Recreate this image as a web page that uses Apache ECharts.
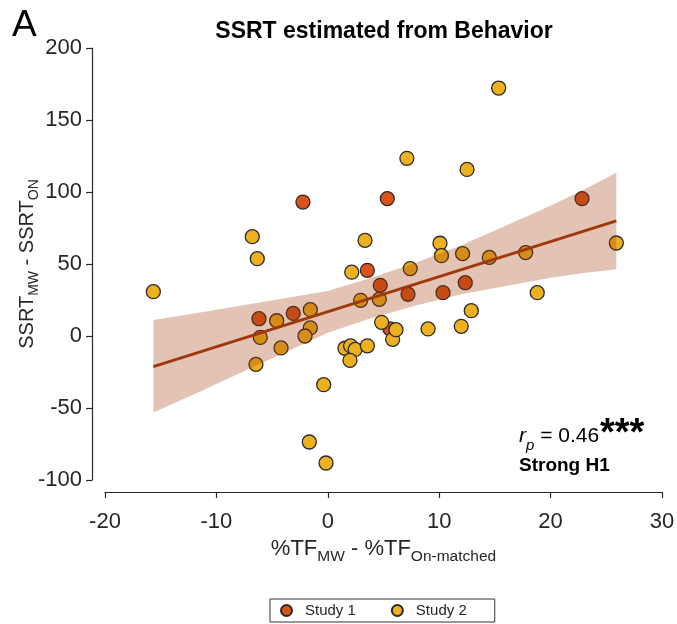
<!DOCTYPE html>
<html>
<head>
<meta charset="utf-8">
<script src="https://cdn.jsdelivr.net/npm/echarts@6/dist/echarts.min.js"></script>
<style>
html,body{margin:0;padding:0;background:#fff;}
#chart{width:677px;height:624px;}
</style>
</head>
<body>
<div id="chart"></div>
<script>
// Study 1 (red) points: [x, y]
var study1X = [-6.18, -3.10, -2.23, 3.55, 4.71, 5.34, 5.58, 7.20, 10.34, 12.34, 22.82];
var study1Y = [12.0, 15.7, 93.0, 45.6, 35.2, 95.4, 4.9, 29.0, 30.1, 37.0, 95.4];
// Study 2 (yellow) points
var study2X = [-15.66, -6.78, -6.33, -6.06, -4.59, -1.57, -1.57, -2.05, -4.20, -6.45, -0.37, -1.66, -0.16,
               1.54, 2.05, 2.46, 1.99, 3.55, 2.15, 3.34, 2.95, 4.62, 4.83, 5.82, 6.12, 9.00, 11.98, 12.88,
               7.40, 7.10, 12.50, 15.34, 10.07, 10.20, 12.10, 14.50, 17.76, 18.80, 25.90];
var study2Y = [30.8, 69.0, 53.7, -1.0, 10.6, 18.3, 5.6, 0.0, -8.3, -19.7, -33.8, -73.6, -88.2,
               -8.5, -6.9, -9.3, -16.9, -6.8, 44.3, 66.4, 24.8, 25.5, 9.5, -2.3, 4.4, 4.9, 6.7, 17.6,
               46.8, 123.4, 115.7, 172.2, 64.4, 55.8, 57.2, 54.6, 57.9, 30.1, 64.6];
// Regression line end points
var fitX = [-15.66, 25.9];
var fitY = [-21.3, 79.9];
// Confidence band
var bandX  = [-15.66, -12, -8, -4, 0, 4, 8, 12, 16, 20, 23, 25.9];
var bandLo = [-53.2, -40.4, -26.2, -11.9, 2.3, 12.6, 21.3, 29.0, 34.8, 40.5, 43.8, 46.3];
var bandHi = [11.1, 15.6, 20.9, 26.1, 31.3, 40.6, 51.3, 63.0, 76.8, 90.5, 101.8, 113.4];
// Axis ticks
var xTicks = [-20, -10, 0, 10, 20, 30];
var yTicks = [-100, -50, 0, 50, 100, 150, 200];

var FONT = '"Liberation Sans", Arial, Helvetica, sans-serif';
var TXT = '#262626';

function pairs(xs, ys){ return xs.map(function(x,i){ return [x, ys[i]]; }); }

var chart = echarts.init(document.getElementById('chart'), null, {renderer:'canvas'});

function subRich(big, small, pad){
  return {
    m: {fontSize: big, fontFamily: FONT, color: TXT, lineHeight: big + 4},
    s: {fontSize: small, fontFamily: FONT, color: TXT, verticalAlign: 'top', lineHeight: small + 1, padding: [pad,0,0,0]}
  };
}

var option = {
  animation: false,
  backgroundColor: '#ffffff',
  textStyle: {fontFamily: FONT},
  grid: {left: 105, right: 15, top: 48, bottom: 144, containLabel: false, outerBoundsMode: 'none'},
  xAxis: {
    type: 'value', min: xTicks[0], max: xTicks[xTicks.length-1], interval: 10, offset: 12,
    splitLine: {show: false},
    axisLine: {show: true, onZero: false, lineStyle: {color: TXT, width: 1.2}},
    axisTick: {show: true, inside: false, length: 6, lineStyle: {color: TXT, width: 1.2}},
    axisLabel: {color: TXT, fontSize: 22, fontFamily: FONT, margin: 19},
    name: '{m|%TF}{s|MW}{m| - %TF}{s|On-matched}',
    nameLocation: 'middle', nameGap: 44, nameMoveOverlap: false,
    nameTextStyle: {rich: subRich(22, 15.5, 13)}
  },
  yAxis: {
    type: 'value', min: yTicks[0], max: yTicks[yTicks.length-1], interval: 50, offset: 13,
    splitLine: {show: false},
    axisLine: {show: true, onZero: false, lineStyle: {color: TXT, width: 1.2}},
    axisTick: {show: true, inside: false, length: 6, lineStyle: {color: TXT, width: 1.2}},
    axisLabel: {color: TXT, fontSize: 22, fontFamily: FONT, margin: 10},
    name: '{m|SSRT}{s|MW}{m| - SSRT}{s|ON}',
    nameLocation: 'middle', nameGap: 53, nameRotate: 90, nameMoveOverlap: false,
    nameTextStyle: {rich: subRich(20, 14, 12)}
  },
  legend: {
    left: 270, bottom: 2,
    orient: 'horizontal',
    data: ['Study 1', 'Study 2'],
    icon: 'circle', itemWidth: 11, itemHeight: 11, itemGap: 35,
    borderColor: '#333', borderWidth: 1, borderRadius: 0,
    padding: [4, 28, 4, 10],
    textStyle: {fontSize: 15, color: TXT, fontFamily: FONT, padding: [0,0,0,8]}
  },
  series: [
    {
      name: 'Study 1', type: 'scatter', z: 2,
      data: pairs(study1X, study1Y),
      symbol: 'circle', symbolSize: 14,
      itemStyle: {color: '#D9541A', borderColor: '#2a2a2a', borderWidth: 1.3, opacity: 1}
    },
    {
      name: 'Study 2', type: 'scatter', z: 2,
      data: pairs(study2X, study2Y),
      symbol: 'circle', symbolSize: 14,
      itemStyle: {color: '#EDB120', borderColor: '#2a2a2a', borderWidth: 1.3, opacity: 1}
    },
    {
      name: 'band', type: 'custom', z: 3, silent: true,
      data: bandX.map(function(x,i){ return [x, bandLo[i], bandHi[i]]; }),
      encode: {x: 0, y: [1, 2]},
      renderItem: function(params, api){
        if (params.dataIndex !== 0) return null;
        var pts = [];
        for (var i = 0; i < bandX.length; i++) pts.push(api.coord([bandX[i], bandHi[i]]));
        for (var j = bandX.length - 1; j >= 0; j--) pts.push(api.coord([bandX[j], bandLo[j]]));
        return {type: 'polygon', shape: {points: pts}, style: {fill: 'rgba(158,55,5,0.30)', stroke: 'none'}};
      }
    },
    {
      name: 'fit', type: 'line', z: 4, silent: true,
      data: pairs(fitX, fitY),
      showSymbol: false, symbol: 'none',
      lineStyle: {color: '#A0380A', width: 3}
    }
  ],
  graphic: [
    {type: 'text', left: 12, top: 7, style: {text: 'A', font: '37px ' + FONT, fill: '#000'}},
    {type: 'text', x: 384, y: 20, style: {text: 'SSRT estimated from Behavior', font: 'bold 23px ' + FONT, fill: '#000', textAlign: 'center'}},
    {type: 'text', x: 519, y: 426, style: {
      text: '{i|r}{p|p}{n| = 0.46}',
      rich: {
        i: {fontSize: 21, fontStyle: 'italic', fontFamily: FONT, fill: '#000', verticalAlign: 'top', lineHeight: 23},
        p: {fontSize: 15, fontStyle: 'italic', fontFamily: FONT, fill: '#000', verticalAlign: 'top', lineHeight: 15, padding: [12,0,0,0]},
        n: {fontSize: 21, fontFamily: FONT, fill: '#000', verticalAlign: 'top', lineHeight: 23}
      }
    }},
    {type: 'text', x: 600, y: 416, style: {text: '***', font: 'bold 38px ' + FONT, fill: '#000'}},
    {type: 'text', x: 519, y: 456, style: {text: 'Strong H1', font: 'bold 19px ' + FONT, fill: '#000'}}
  ]
};
chart.setOption(option);
</script>
</body>
</html>
